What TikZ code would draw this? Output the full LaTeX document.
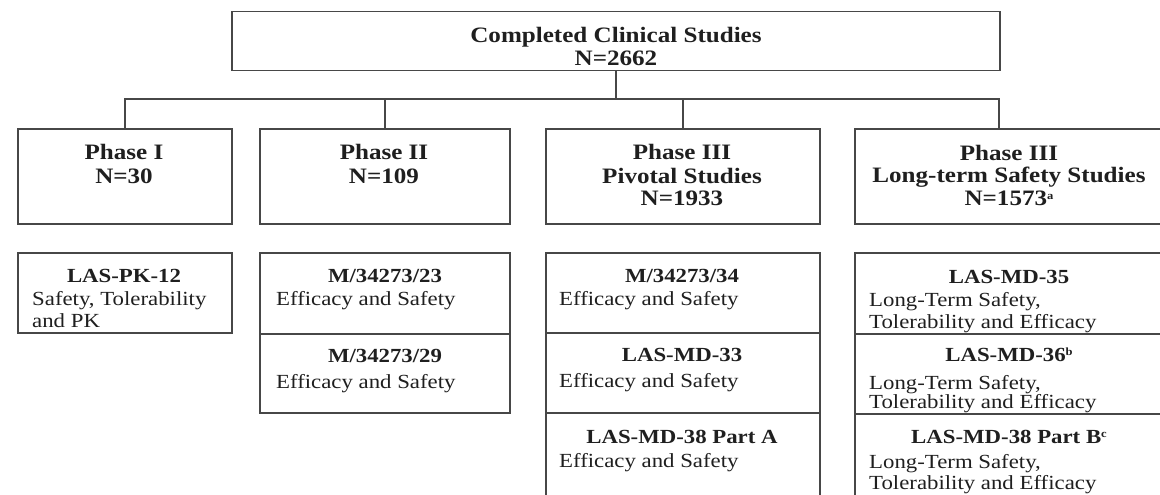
\documentclass[tikz,border=0pt]{standalone}
\usepackage{fontspec}
\setmainfont{Liberation Serif}[FakeStretch=1.14]
\newcommand{\smsup}[1]{\raisebox{6pt}{\fontsize{11}{11}\selectfont #1}}
\begin{document}
\begin{tikzpicture}[x=1pt,y=-1pt,
  box/.style={draw=black!72, line width=1.5pt, rectangle, inner sep=0pt, anchor=north west},
  conn/.style={draw=black!72, line width=1.5pt},
  hd/.style={anchor=base, inner sep=0pt, text=black!88, font=\fontsize{22}{23}\selectfont\bfseries},
  sid/.style={anchor=base, inner sep=0pt, text=black!88, font=\fontsize{20}{22}\selectfont\bfseries},
  sdesc/.style={anchor=base west, inner sep=0pt, text=black!88, font=\fontsize{20}{22}\selectfont}]
\useasboundingbox (0,0) rectangle (1160,495);
\fill[white] (0,0) rectangle (1160,495);
\clip (0,0) rectangle (1160,495);
% top box
\node[box, minimum width=768pt, minimum height=59pt] (top) at (231,11) {};
\node[hd] (topA) at (616,43) {Completed Clinical Studies};
\node[hd] (topB) at (616,66) {N=2662};
% phase boxes
\node[box, minimum width=214pt, minimum height=95pt] (p1) at (17,128) {};
\node[box, minimum width=250pt, minimum height=95pt] (p2) at (259,128) {};
\node[box, minimum width=274pt, minimum height=95pt] (p3) at (545,128) {};
\node[box, minimum width=310pt, minimum height=95pt] (p4) at (854,128) {};
\node[hd] (p1a) at (124,159) {Phase I};
\node[hd] (p1b) at (124,183) {N=30};
\node[hd] (p2a) at (384,159) {Phase II};
\node[hd] (p2b) at (384,183) {N=109};
\node[hd] (p3a) at (682,159) {Phase III};
\node[hd] (p3b) at (682,183) {Pivotal Studies};
\node[hd] (p3c) at (682,205) {N=1933};
\node[hd] (p4a) at (1009,160) {Phase III};
\node[hd] (p4b) at (1009,182) {Long-term Safety Studies};
\node[hd] (p4c) at (1009,205) {N=1573\smsup{a}};
% connectors
\coordinate (bus) at (0,99);
\coordinate (d4) at (999,128);
\draw[conn] (top.south) -- (top.south |- bus);
\draw[conn] (p1.north) -- (p1.north |- bus) -- (d4 |- bus) -- (d4);
\draw[conn] (p2.north) -- (p2.north |- bus);
\draw[conn] (p3.north) -- (p3.north |- bus);
% study boxes column 1
\node[box, minimum width=214pt, minimum height=80pt] (s1) at (17,252) {};
\node[sid] (s1a) at (124,282) {LAS-PK-12};
\node[sdesc] (s1b) at (32,305) {Safety, Tolerability};
\node[sdesc] (s1c) at (32,327) {and PK};
% column 2
\node[box, minimum width=250pt, minimum height=81pt] (s2a) at (259,252) {};
\node[box, minimum width=250pt, minimum height=79pt] (s2b) at (259,333) {};
\node[sid] (s2at) at (385,282) {M/34273/23};
\node[sdesc] (s2ad) at (276,305) {Efficacy and Safety};
\node[sid] (s2bt) at (385,362) {M/34273/29};
\node[sdesc] (s2bd) at (276,388) {Efficacy and Safety};
% column 3
\node[box, minimum width=274pt, minimum height=80pt] (s3a) at (545,252) {};
\node[box, minimum width=274pt, minimum height=80pt] (s3b) at (545,332) {};
\node[box, minimum width=274pt, minimum height=95pt] (s3c) at (545,412) {};
\node[sid] (s3at) at (682,282) {M/34273/34};
\node[sdesc] (s3ad) at (559,305) {Efficacy and Safety};
\node[sid] (s3bt) at (682,361) {LAS-MD-33};
\node[sdesc] (s3bd) at (559,387) {Efficacy and Safety};
\node[sid] (s3ct) at (682,443) {LAS-MD-38 Part A};
\node[sdesc] (s3cd) at (559,467) {Efficacy and Safety};
% column 4
\node[box, minimum width=310pt, minimum height=81pt] (s4a) at (854,252) {};
\node[box, minimum width=310pt, minimum height=80pt] (s4b) at (854,333) {};
\node[box, minimum width=310pt, minimum height=95pt] (s4c) at (854,413) {};
\node[sid] (s4at) at (1009,283) {LAS-MD-35};
\node[sdesc] (s4ad) at (869,306) {Long-Term Safety,};
\node[sdesc] (s4ae) at (869,328) {Tolerability and Efficacy};
\node[sid] (s4bt) at (1009,361) {LAS-MD-36\smsup{b}};
\node[sdesc] (s4bd) at (869,389) {Long-Term Safety,};
\node[sdesc] (s4be) at (869,408) {Tolerability and Efficacy};
\node[sid] (s4ct) at (1009,443) {LAS-MD-38 Part B\smsup{c}};
\node[sdesc] (s4cd) at (869,468) {Long-Term Safety,};
\node[sdesc] (s4ce) at (869,489) {Tolerability and Efficacy};
\end{tikzpicture}
\end{document}
